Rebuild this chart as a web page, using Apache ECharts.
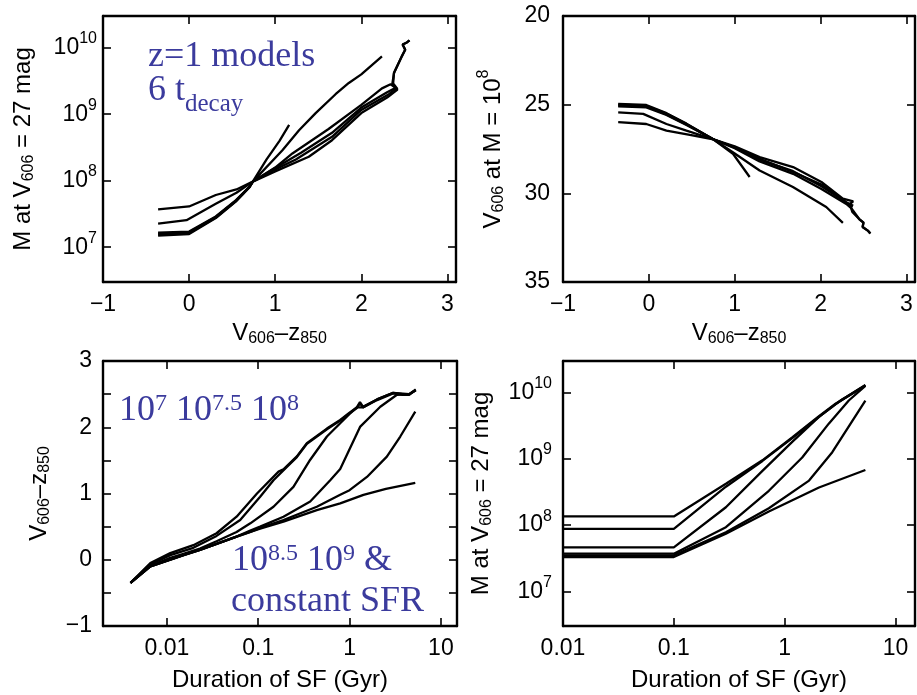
<!DOCTYPE html>
<html><head><meta charset="utf-8">
<script src="https://cdn.jsdelivr.net/npm/echarts@6/dist/echarts.min.js"></script>
<style>html,body{margin:0;padding:0;background:#fff}#c{width:917px;height:695px}</style>
</head><body><div id="c"></div>
<script>
// ---------------- DATA ----------------
const MODELS = ['t_decay 1e7', 't_decay 1e7.5', 't_decay 1e8', 't_decay 1e8.5', 't_decay 1e9', 'constant SFR'];

// Panel 1: [V606-z850, M at V606 = 27 mag]
const p1_t7 = [[-0.36,3.7e7],[0.0,4.1e7],[0.31,6.1e7],[0.55,7.4e7],[0.74,9.7e7],[1.0,1.38e8],[1.39,2.29e8],[1.66,4.07e8],[2.0,1.04e9],[2.3,1.78e9],[2.42,2.34e9],[2.36,2.82e9],[2.38,4.17e9],[2.47,7.41e9],[2.51,9.33e9],[2.48,1.12e10],[2.53,1.2e10],[2.56,1.29e10]];
const p1_t75 = [[-0.36,2.27e7],[-0.03,2.55e7],[0.31,4.5e7],[0.55,6.6e7],[0.74,9.7e7],[1.0,1.48e8],[1.24,2.09e8],[1.66,4.57e8],[2.0,1.16e9],[2.32,2.0e9],[2.4,2.4e9]];
const p1_t8 = [[-0.36,1.65e7],[0.0,1.72e7],[0.31,2.9e7],[0.545,5.1e7],[0.7,8.1e7],[0.74,9.7e7],[1.0,1.58e8],[1.2,2.57e8],[1.62,6.0e8],[2.0,1.38e9],[2.24,2.45e9],[2.34,2.82e9],[2.42,2.4e9],[2.37,2.9e9],[2.38,4.2e9],[2.47,7.4e9],[2.51,9.3e9],[2.48,1.12e10],[2.53,1.2e10],[2.56,1.29e10]];
const p1_t85 = [[-0.36,1.6e7],[0.0,1.68e7],[0.31,2.85e7],[0.545,5.0e7],[0.7,8.0e7],[0.74,9.7e7],[1.0,1.55e8],[1.3,2.63e8],[1.66,5.25e8],[2.0,1.26e9],[2.3,2.14e9],[2.4,2.5e9]];
const p1_t9 = [[-0.36,1.55e7],[0.0,1.62e7],[0.31,2.8e7],[0.545,5.0e7],[0.7,8.0e7],[0.74,9.7e7],[1.084,2.88e8],[1.277,5.75e8],[1.47,1.04e9],[1.701,2.0e9],[1.855,2.95e9],[2.0,3.98e9],[2.24,7.41e9]];
const p1_const = [[-0.36,1.5e7],[0.0,1.58e7],[0.31,2.75e7],[0.545,4.9e7],[0.7,7.9e7],[0.74,9.7e7],[0.9,2.09e8],[1.05,3.98e8],[1.162,6.9e8]];

// Panel 2: [V606-z850, V606 at M = 1e8]
const p2_t7 = [[-0.357,25.99],[-0.03,26.09],[0.205,26.46],[0.477,26.71],[0.75,26.95],[1.0,27.35],[1.29,27.96],[1.68,28.52],[2.01,29.36],[2.26,30.3],[2.38,30.45],[2.34,30.6],[2.37,31.05],[2.45,31.45],[2.5,31.65],[2.49,31.9],[2.55,32.1],[2.58,32.27]];
const p2_t75 = [[-0.357,25.43],[-0.066,25.52],[0.205,26.09],[0.438,26.46],[0.75,26.95],[1.0,27.4],[1.29,28.1],[1.68,28.75],[2.01,29.6],[2.25,30.35],[2.37,30.8]];
const p2_t8 = [[-0.357,25.0],[-0.03,25.06],[0.205,25.5],[0.438,26.09],[0.75,26.95],[1.0,27.45],[1.29,28.2],[1.68,28.9],[2.01,29.75],[2.3,30.6],[2.36,30.85],[2.45,31.45],[2.5,31.65],[2.49,31.9],[2.55,32.1],[2.58,32.27]];
const p2_t85 = [[-0.357,24.95],[-0.03,25.02],[0.205,25.48],[0.438,26.07],[0.75,26.95],[1.0,27.42],[1.29,28.05],[1.68,28.8],[2.01,29.5],[2.3,30.5],[2.38,30.7]];
const p2_t9 = [[-0.357,25.05],[-0.03,25.1],[0.205,25.55],[0.438,26.12],[0.75,26.95],[1.0,27.75],[1.29,28.71],[1.678,29.64],[2.066,30.77],[2.26,31.67]];
const p2_const = [[-0.357,25.1],[-0.03,25.15],[0.205,25.58],[0.438,26.15],[0.75,26.95],[0.98,27.77],[1.174,29.08]];

// Panel 3: [Duration of SF (Gyr), V606-z850]
const p3_t7 = [[0.004,-0.35],[0.0066,-0.05],[0.0109,0.10],[0.0195,0.22],[0.035,0.40],[0.058,0.65],[0.097,1.0],[0.167,1.33],[0.189,1.365],[0.265,1.56],[0.341,1.76],[0.565,1.98],[0.79,2.11],[1.0,2.22],[1.2,2.3],[1.3,2.38],[1.4,2.31],[2.0,2.42],[3.0,2.52],[3.8,2.5],[4.5,2.5],[5.3,2.57]];
const p3_t75 = [[0.004,-0.35],[0.0066,-0.07],[0.0109,0.07],[0.0195,0.18],[0.035,0.36],[0.0635,0.60],[0.105,0.95],[0.147,1.20],[0.206,1.40],[0.265,1.55],[0.341,1.75],[0.565,1.97],[0.79,2.10],[1.0,2.21],[1.2,2.29],[1.3,2.36],[1.4,2.3],[2.0,2.41],[3.0,2.51],[3.8,2.49],[4.5,2.49],[5.3,2.56]];
const p3_t8 = [[0.004,-0.35],[0.0066,-0.09],[0.0109,0.03],[0.0152,0.09],[0.023,0.17],[0.035,0.28],[0.058,0.42],[0.082,0.55],[0.147,0.80],[0.243,1.10],[0.371,1.51],[0.565,1.86],[0.79,2.06],[1.0,2.2],[1.2,2.3],[1.4,2.3],[2.0,2.42],[3.0,2.52],[4.5,2.5],[5.3,2.56]];
const p3_t85 = [[0.004,-0.35],[0.0066,-0.10],[0.0109,0.0],[0.0152,0.07],[0.023,0.15],[0.035,0.24],[0.058,0.35],[0.082,0.44],[0.105,0.50],[0.189,0.65],[0.371,0.88],[0.614,1.20],[0.79,1.37],[1.31,2.01],[2.17,2.31],[3.3,2.49],[4.5,2.5],[5.3,2.56]];
const p3_t9 = [[0.004,-0.35],[0.0066,-0.10],[0.0109,0.0],[0.0152,0.07],[0.023,0.15],[0.035,0.24],[0.058,0.35],[0.082,0.42],[0.105,0.48],[0.189,0.60],[0.438,0.80],[0.79,0.98],[1.0,1.05],[1.55,1.25],[2.56,1.556],[3.59,1.86],[5.24,2.235]];
const p3_const = [[0.004,-0.35],[0.0066,-0.10],[0.0109,0.0],[0.0152,0.07],[0.023,0.15],[0.035,0.24],[0.058,0.35],[0.082,0.42],[0.105,0.47],[0.189,0.575],[0.438,0.75],[0.79,0.85],[1.42,0.98],[2.5,1.07],[5.24,1.16]];

// Panel 4: [Duration of SF (Gyr), M at V606 = 27 mag]
const p4_t7 = [[0.01,1.35e8],[0.1,1.35e8],[0.295,4.2e8],[0.63,9.5e8],[1.17,2.1e9],[2.0,4.3e9],[2.88,6.8e9],[5.35,1.3e10]];
const p4_t75 = [[0.01,8.8e7],[0.1,8.8e7],[0.295,3.8e8],[0.63,9.3e8],[1.17,2.05e9],[2.0,4.2e9],[2.88,6.7e9],[5.35,1.28e10]];
const p4_t8 = [[0.01,4.6e7],[0.1,4.6e7],[0.295,1.86e8],[0.63,6.6e8],[1.17,1.8e9],[2.04,4.3e9],[3.3,7.9e9],[5.35,1.28e10]];
const p4_t85 = [[0.01,3.7e7],[0.1,3.7e7],[0.295,9.3e7],[0.72,3.3e8],[1.44,1.05e9],[2.5,3.4e9],[3.79,7.6e9],[5.35,1.26e10]];
const p4_t9 = [[0.01,3.5e7],[0.1,3.5e7],[0.295,7.8e7],[0.72,1.8e8],[1.66,4.7e8],[2.69,1.26e9],[5.35,7.6e9]];
const p4_const = [[0.01,3.3e7],[0.1,3.3e7],[0.295,7.4e7],[0.72,1.6e8],[2.04,3.7e8],[5.35,6.8e8]];

// Axis ranges
const COLOUR_RANGE = [-1, 3.1];
const MASS_RANGE = [3e6, 3e10];
const VMAG_RANGE = [20, 35];
const COLOUR_Y_RANGE = [-1, 3];
const DUR3_RANGE = [0.002, 15];
const DUR4_RANGE = [0.01, 15];

// ---------------- STYLE / BUILD ----------------
const SANS = '"Liberation Sans", Arial, Helvetica, sans-serif';
const SERIF = '"Liberation Serif", "Times New Roman", serif';
const BLUE = '#3b3b9d';

function powLabel(v) {
  const e = Math.log10(v), r = Math.round(e);
  if (Math.abs(e - r) > 1e-6) return '';
  return '{b|10}{s|' + r + '}';
}
function durLabel(v) {
  const e = Math.log10(v), r = Math.round(e);
  if (Math.abs(e - r) > 1e-6) return '';
  return r < 0 ? Math.pow(10, r).toFixed(-r) : String(Math.round(Math.pow(10, r)));
}
function linLabel(v) {
  if (Math.abs(v - Math.round(v)) > 1e-6) return '';
  v = Math.round(v);
  return v < 0 ? '\u2212' + Math.abs(v) : String(v);
}
const powRich = {
  b: {fontSize: 23, fontFamily: SANS, color: '#000'},
  s: {fontSize: 16, fontFamily: SANS, color: '#000', padding: [0, 0, 18, 0]}
};
const nameRich = {
  a: {fontSize: 24, fontFamily: SANS, color: '#000'},
  b: {fontSize: 16, fontFamily: SANS, color: '#000', padding: [12, 0, 0, 0]},
  c: {fontSize: 16, fontFamily: SANS, color: '#000', padding: [0, 0, 18, 0]}
};

function axis(gi, pos, cfg) {
  const main = (pos === 'bottom' || pos === 'left');
  const a = {
    gridIndex: gi, position: pos, type: cfg.type, min: cfg.range[0], max: cfg.range[1],
    inverse: !!cfg.inverse,
    axisLine: {show: true, onZero: false, lineStyle: {color: '#000', width: 2.4}},
    axisTick: {show: true, inside: true, length: 8, lineStyle: {color: '#000', width: 1.6}},
    minorTick: cfg.minor ? {show: true, splitNumber: 2, length: 8, lineStyle: {color: '#000', width: 1.6}} : {show: false},
    splitLine: {show: false}, minorSplitLine: {show: false},
    axisLabel: main ? Object.assign({color: '#000', fontSize: 23, fontFamily: SANS, margin: cfg.margin, formatter: cfg.fmt}, cfg.rich ? {rich: cfg.rich} : {}) : {show: false},
    silent: true
  };
  if (cfg.type === 'log') a.logBase = 10;
  if (cfg.interval) a.interval = cfg.interval;
  if (main && cfg.name) {
    a.name = cfg.name; a.nameLocation = 'middle'; a.nameGap = cfg.nameGap;
    a.nameTextStyle = {color: '#000', fontSize: 24, fontFamily: SANS, rich: nameRich};
  }
  return a;
}

const COLOUR_NAME = '{a|V}{b|606}{a|\u2013z}{b|850}';
const xCfg = [
  {type: 'value', range: COLOUR_RANGE, interval: 1, fmt: linLabel, margin: 11, name: COLOUR_NAME, nameGap: 37},
  {type: 'value', range: COLOUR_RANGE, interval: 1, fmt: linLabel, margin: 11, name: COLOUR_NAME, nameGap: 37},
  {type: 'log', range: DUR3_RANGE, fmt: durLabel, margin: 11, name: 'Duration of SF (Gyr)', nameGap: 42},
  {type: 'log', range: DUR4_RANGE, fmt: durLabel, margin: 11, name: 'Duration of SF (Gyr)', nameGap: 42}
];
const yCfg = [
  {type: 'log', range: MASS_RANGE, fmt: powLabel, rich: powRich, margin: 6, name: '{a|M at V}{b|606}{a| = 27 mag}', nameGap: 66},
  {type: 'value', range: VMAG_RANGE, inverse: true, interval: 5, fmt: linLabel, margin: 13, name: '{a|V}{b|606}{a| at M = 10}{c|8}', nameGap: 53},
  {type: 'value', range: COLOUR_Y_RANGE, interval: 1, minor: true, fmt: linLabel, margin: 11, name: COLOUR_NAME, nameGap: 50},
  {type: 'log', range: MASS_RANGE, fmt: powLabel, rich: powRich, margin: 11, name: '{a|M at V}{b|606}{a| = 27 mag}', nameGap: 68}
];

const grids = [
  {left: 103, top: 16, width: 353, height: 266},
  {left: 563, top: 16, width: 352, height: 266},
  {left: 103, top: 361, width: 354, height: 265},
  {left: 563, top: 361, width: 352, height: 265}
].map(g => Object.assign({containLabel: false, outerBoundsMode: 'none', show: false}, g));

const xAxes = [], yAxes = [];
for (let g = 0; g < 4; g++) {
  xAxes.push(axis(g, 'bottom', xCfg[g]));
  xAxes.push(axis(g, 'top', xCfg[g]));
  yAxes.push(axis(g, 'left', yCfg[g]));
  yAxes.push(axis(g, 'right', yCfg[g]));
}

const panelLines = [
  [p1_t7, p1_t75, p1_t8, p1_t85, p1_t9, p1_const],
  [p2_t7, p2_t75, p2_t8, p2_t85, p2_t9, p2_const],
  [p3_t7, p3_t75, p3_t8, p3_t85, p3_t9, p3_const],
  [p4_t7, p4_t75, p4_t8, p4_t85, p4_t9, p4_const]
];
const series = [];
panelLines.forEach((lines, g) => lines.forEach((d, i) => series.push({
  type: 'line', name: MODELS[i], xAxisIndex: 2 * g, yAxisIndex: 2 * g, data: d,
  symbol: 'none', showSymbol: false, smooth: false, silent: true, clip: true,
  lineStyle: {color: '#000', width: 2.3}, emphasis: {disabled: true}
})));

const annRich = {
  m: {fontSize: 36, fontFamily: SERIF, color: BLUE},
  p: {fontSize: 24, fontFamily: SERIF, color: BLUE, padding: [0, 0, 14, 0]},
  s: {fontSize: 25, fontFamily: SERIF, color: BLUE, padding: [26, 0, 0, 0]}
};
function ann(x, y, text) {
  return {type: 'text', left: x, top: y, silent: true, z: 10,
    style: {text: text, rich: annRich, fill: BLUE, font: '36px ' + SERIF}};
}

const chart = echarts.init(document.getElementById('c'), null, {renderer: 'canvas'});
chart.setOption({
  animation: false,
  backgroundColor: '#fff',
  grid: grids,
  xAxis: xAxes,
  yAxis: yAxes,
  series: series,
  graphic: [
    ann(148, 39, '{m|z=1 models}'),
    ann(148, 73, '{m|6 t}{s|decay}'),
    ann(119, 392, '{m|10}{p|7} {m|10}{p|7.5} {m|10}{p|8}'),
    ann(232, 542, '{m|10}{p|8.5} {m|10}{p|9} {m|&}'),
    ann(231, 584, '{m|constant SFR}')
  ]
});
</script>
</body></html>
